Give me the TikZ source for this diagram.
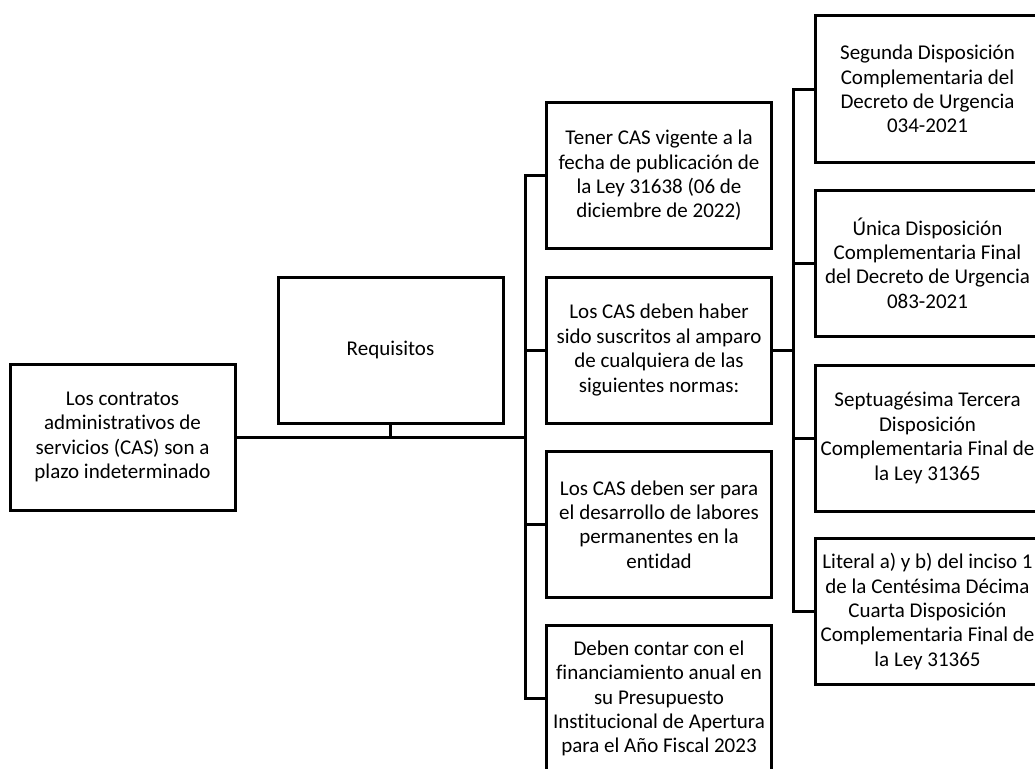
\documentclass[tikz,border=0pt]{standalone}
\usepackage{fontspec}
\setmainfont[Ligatures=NoCommon]{Carlito}
\begin{document}
\begin{tikzpicture}[x=1pt,y=-1pt,
  box/.style={draw=black,line width=3pt,minimum width=225pt,minimum height=146pt,
    inner sep=0pt,align=center,font=\fontsize{21pt}{24.4pt}\selectfont},
  conn/.style={draw=black,line width=3pt}]
\useasboundingbox (0,0) rectangle (1035,768);
\clip (0,0) rectangle (1035,768);
\fill[white] (0,0) rectangle (1035,768);
\node[box] (left) at (122.5,437) {Los contratos\\administrativos de\\servicios (CAS) son a\\plazo indeterminado};
\node[box] (req) at (390.5,350) {Requisitos};
\node[box] (m1) at (659,175.5) {Tener CAS vigente a la\\fecha de publicación de\\la Ley 31638 (06 de\\diciembre de 2022)};
\node[box] (m2) at (659,350) {Los CAS deben haber\\sido suscritos al amparo\\de cualquiera de las\\siguientes normas:};
\node[box] (m3) at (659,524.5) {Los CAS deben ser para\\el desarrollo de labores\\permanentes en la\\entidad};
\node[box] (m4) at (659,698.5) {Deben contar con el\\financiamiento anual en\\su Presupuesto\\Institucional de Apertura\\para el Año Fiscal 2023};
\node[box] (r1) at (927.5,89) {Segunda Disposición\\Complementaria del\\Decreto de Urgencia\\034-2021};
\node[box] (r2) at (927.5,263) {Única Disposición\\Complementaria Final\\del Decreto de Urgencia\\083-2021};
\node[box] (r3) at (927.5,438) {Septuagésima Tercera\\Disposición\\Complementaria Final de\\la Ley 31365};
\node[box] (r4) at (927.5,611.5) {Literal a) y b) del inciso 1\\de la Centésima Décima\\Cuarta Disposición\\Complementaria Final de\\la Ley 31365};
\coordinate (mb) at (525,437);
\coordinate (rb) at (793,350);
\draw[conn] (left.east) -- (mb);
\draw[conn] (req.south) -- (req.south |- mb);
\draw[conn] (m1.west) -| (mb |- m1.west) |- (m4.west);
\draw[conn] (m2.west) -- (m2.west -| mb);
\draw[conn] (m3.west) -- (m3.west -| mb);
\draw[conn] (m2.east) -- (rb);
\draw[conn] (r1.west) -| (rb |- r1.west) |- (r4.west);
\draw[conn] (r2.west) -- (r2.west -| rb);
\draw[conn] (r3.west) -- (r3.west -| rb);
\end{tikzpicture}
\end{document}
